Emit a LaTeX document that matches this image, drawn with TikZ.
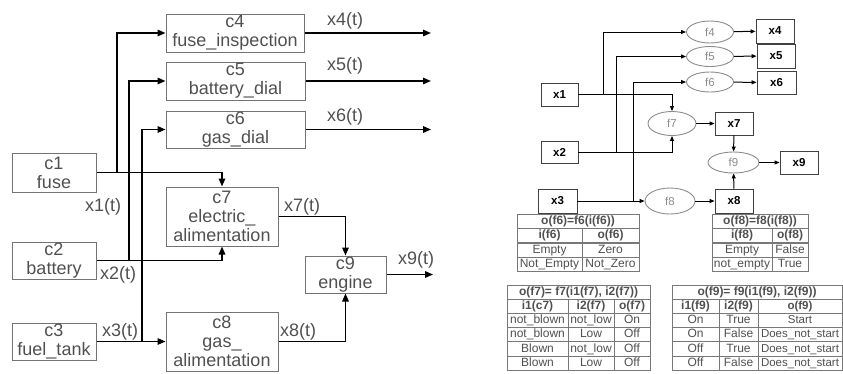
\documentclass[tikz,border=0pt]{standalone}
\usepackage{fontspec}
\setmainfont{Liberation Sans}
\usepackage{xcolor}
\usetikzlibrary{positioning,arrows.meta,shapes.geometric}
\definecolor{cText}{RGB}{80,80,80}
\definecolor{cEdge}{RGB}{115,115,115}
\definecolor{cEll}{RGB}{140,140,140}
\definecolor{cGrid}{RGB}{120,120,120}

\begin{document}
\begin{tikzpicture}[x=1pt,y=-1pt,
   comp/.style={draw=cEdge,line width=1pt,text=cText,align=center,inner sep=0pt,
     font=\fontsize{18}{19}\selectfont},
   sig/.style={text=cText,font=\fontsize{18}{19}\selectfont,inner sep=0pt},
   wire/.style={line width=1.5pt,-{Triangle[length=8pt,width=6.5pt]}},
   var/.style={draw=black!75,line width=0.9pt,minimum width=38,minimum height=23,
     inner sep=0pt,font=\fontsize{11.5}{12}\selectfont\bfseries},
   fun/.style={draw=cEll,ellipse,line width=0.9pt,minimum width=47,minimum height=20,
     inner sep=0pt,text=cEll,font=\fontsize{11.5}{12}\selectfont},
   link/.style={line width=1pt,-{Triangle[length=5pt,width=4pt]}},
   cell/.style={draw=cGrid,line width=0.8pt,minimum height=14.2,inner sep=0pt,
     text height=8.6pt,text depth=2.4pt,text=cText,font=\fontsize{12}{12}\selectfont}]
  \useasboundingbox (0,0) rectangle (843,373);

  % components
  \node[comp,minimum width=138,minimum height=38] (c4) at (235,33) {c4\\fuse\_inspection};
  \node[comp,minimum width=139,minimum height=38] (c5) at (235.5,81) {c5\\battery\_dial};
  \node[comp,minimum width=139,minimum height=37] (c6) at (235.5,129.5) {c6\\gas\_dial};
  \node[comp,minimum width=84,minimum height=39] (c1) at (54,172.5) {c1\\fuse};
  \node[comp,minimum width=84,minimum height=37] (c2) at (54,260.5) {c2\\battery};
  \node[comp,minimum width=84,minimum height=37] (c3) at (54,341.5) {c3\\fuel\_tank};
  \node[comp,minimum width=112,minimum height=59] (c7) at (222,216.5) {c7\\electric\_\\alimentation};
  \node[comp,minimum width=112,minimum height=59] (c8) at (222,341.5) {c8\\gas\_\\alimentation};
  \node[comp,minimum width=81,minimum height=37] (c9) at (345.5,274.5) {c9\\engine};

  % branch points and free ends
  \coordinate (b1) at (117,172.5);
  \coordinate (b2) at (129,260.5);
  \coordinate (b3) at (142,341.5);
  \coordinate (o4) at (431,33);
  \coordinate (o5) at (431,81);
  \coordinate (o6) at (431,129.5);
  \coordinate (o9) at (433,274.5);

  \draw[wire] (c1.east) -| (c7.north);
  \draw[wire] (b1) |- (c4.west);
  \draw[wire] (c2.east) -| (c7.south);
  \draw[wire] (b2) |- (c5.west);
  \draw[wire] (c3.east) -- (c8.west);
  \draw[wire] (b3) |- (c6.west);
  \draw[wire] (c4.east) -- (o4);
  \draw[wire] (c5.east) -- (o5);
  \draw[wire] (c6.east) -- (o6);
  \draw[wire] (c7.east) -| (c9.north);
  \draw[wire] (c8.east) -| (c9.south);
  \draw[wire] (c9.east) -- (o9);

  % signal labels
  \node[sig] (s1) at (103,207) {x1(t)};
  \node[sig] (s2) at (118,275) {x2(t)};
  \node[sig] (s3) at (120,332) {x3(t)};
  \node[sig] (s4) at (345,21) {x4(t)};
  \node[sig] (s5) at (345,66) {x5(t)};
  \node[sig] (s6) at (345,117) {x6(t)};
  \node[sig] (s7) at (302,207) {x7(t)};
  \node[sig] (s8) at (298,332) {x8(t)};
  \node[sig] (s9) at (416,260) {x9(t)};

  % variables and functions
  \node[var,minimum width=37] (x1) at (559.5,94.5) {x1};
  \node[var,minimum width=37,minimum height=22] (x2) at (559.5,152) {x2};
  \node[var,minimum width=39,minimum height=24] (x3) at (557.5,201) {x3};
  \node[fun,minimum height=22] (f4) at (710,32) {f4};
  \node[fun] (f5) at (710,56.5) {f5};
  \node[fun] (f6) at (710,82) {f6};
  \node[var,minimum height=24] (x4) at (775,31) {x4};
  \node[var,minimum height=24] (x5) at (776,56) {x5};
  \node[var,minimum width=39] (x6) at (776.5,82.5) {x6};
  \node[fun,minimum width=48,minimum height=24] (f7) at (672,123.5) {f7};
  \node[fun,minimum width=50,minimum height=26] (f8) at (670,201) {f8};
  \node[var] (x7) at (734,123.5) {x7};
  \node[fun,minimum width=51,minimum height=21] (f9) at (733.5,162.5) {f9};
  \node[var] (x9) at (799,162.5) {x9};
  \node[var,minimum height=24] (x8) at (734,201) {x8};

  \coordinate (d1) at (603,94.5);
  \coordinate (d2) at (616,152);
  \coordinate (d3) at (633,201);

  \draw[link] (x1.east) -| (f7.north);
  \draw[link] (d1) |- (f4.west);
  \draw[link] (x2.east) -| (f7.south);
  \draw[link] (d2) |- (f5.west);
  \draw[link] (x3.east) -- (f8.west);
  \draw[link] (d3) |- (f6.west);
  \draw[link] (f4) -- (x4);
  \draw[link] (f5) -- (x5);
  \draw[link] (f6) -- (x6);
  \draw[link] (f7) -- (x7);
  \draw[link] (f8) -- (x8);
  \draw[link] (x7) -- (f9);
  \draw[link] (x8) -- (f9);
  \draw[link] (f9) -- (x9);

  % table f6
  \node[cell,minimum width=122,font=\fontsize{12}{12}\selectfont\bfseries] (t6) at (578,221.25) {o(f6)=f6(i(f6))};
  \foreach \a/\b [count=\r] in {i(f6)/o(f6),Empty/Zero,Not\_Empty/Not\_Zero}{
    \node[cell,minimum width=65] (t6a\r) at (549.5,221.25+14.5*\r) {\ifnum\r=1 \bfseries\fi\a};
    \node[cell,minimum width=57] (t6b\r) at (610.5,221.25+14.5*\r) {\ifnum\r=1 \bfseries\fi\b};
  }

  % table f8
  \node[cell,minimum width=96,font=\fontsize{12}{12}\selectfont\bfseries] (t8) at (760,221.25) {o(f8)=f8(i(f8))};
  \foreach \a/\b [count=\r] in {i(f8)/o(f8),Empty/False,not\_empty/True}{
    \node[cell,minimum width=60] (t8a\r) at (742,221.25+14.5*\r) {\ifnum\r=1 \bfseries\fi\a};
    \node[cell,minimum width=36] (t8b\r) at (790,221.25+14.5*\r) {\ifnum\r=1 \bfseries\fi\b};
  }

  % table f7
  \node[cell,minimum width=143,font=\fontsize{12}{12}\selectfont\bfseries] (t7) at (578.5,292.1) {o(f7)= f7(i1(f7), i2(f7))};
  \foreach \a/\b/\c [count=\r] in {i1(c7)/i2(f7)/o(f7),not\_blown/not\_low/On,
      not\_blown/Low/Off,Blown/not\_low/Off,Blown/Low/Off}{
    \node[cell,minimum width=61] (t7a\r) at (537.5,292.1+14.2*\r) {\ifnum\r=1 \bfseries\fi\a};
    \node[cell,minimum width=46] (t7b\r) at (591,292.1+14.2*\r) {\ifnum\r=1 \bfseries\fi\b};
    \node[cell,minimum width=36] (t7c\r) at (632,292.1+14.2*\r) {\ifnum\r=1 \bfseries\fi\c};
  }

  % table f9 (runs to the right edge)
  \node[cell,minimum width=170,font=\fontsize{12}{12}\selectfont\bfseries] (t9) at (757,292.1) {o(f9)= f9(i1(f9), i2(f9))};
  \foreach \a/\b/\c [count=\r] in {i1(f9)/i2(f9)/o(f9),On/True/Start,
      On/False/Does\_not\_start,Off/True/Does\_not\_start,Off/False/Does\_not\_start}{
    \node[cell,minimum width=47] (t9a\r) at (695.5,292.1+14.2*\r) {\ifnum\r=1 \bfseries\fi\a};
    \node[cell,minimum width=39] (t9b\r) at (738.5,292.1+14.2*\r) {\ifnum\r=1 \bfseries\fi\b};
    \node[cell,minimum width=84,font=\fontsize{11.5}{12}\selectfont] (t9c\r) at (800,292.1+14.2*\r) {\ifnum\r=1 \bfseries\fi\c};
  }
\end{tikzpicture}
\end{document}
